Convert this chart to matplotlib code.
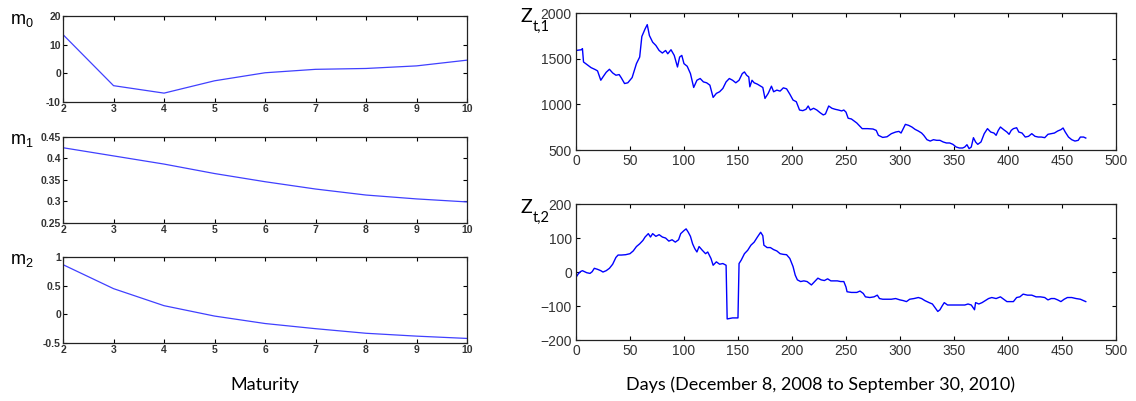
import matplotlib
matplotlib.use("Agg")
import matplotlib.pyplot as plt

# loadings against maturity
maturity = [2, 3, 4, 5, 6, 7, 8, 9, 10]
m0 = [13.5, -4.3, -6.9, -2.6, 0.2, 1.4, 1.7, 2.6, 4.6]
m1 = [0.425, 0.406, 0.387, 0.365, 0.346, 0.329, 0.315, 0.306, 0.299]
m2 = [0.866, 0.448, 0.151, -0.03, -0.16, -0.25, -0.33, -0.38, -0.42]

# factor Z_t,1
days1 = [0, 5, 6, 7, 10, 14, 18, 20, 23, 25, 28, 31, 34, 37, 40, 42, 45, 48, 52,
         56, 59, 61, 64, 66, 68, 71, 74, 77, 80, 83, 85, 88, 91, 94, 96, 98, 100,
         103, 106, 109, 112, 115, 118, 121, 124, 127, 130, 133, 136, 139, 142,
         145, 148, 151, 154, 156, 158, 160, 161, 163, 165, 168, 171, 173, 175,
         178, 181, 183, 186, 189, 192, 195, 198, 201, 204, 207, 210, 213, 215,
         217, 220, 223, 226, 229, 231, 234, 237, 240, 243, 246, 248, 250, 252,
         255, 260, 265, 270, 275, 278, 280, 284, 288, 292, 296, 299, 301, 303,
         305, 308, 311, 314, 317, 320, 322, 325, 328, 331, 334, 337, 340, 343,
         346, 349, 352, 355, 358, 360, 362, 364, 366, 368, 370, 372, 375, 378,
         381, 384, 387, 389, 391, 393, 396, 399, 401, 403, 405, 408, 410, 413,
         416, 419, 422, 425, 428, 431, 434, 437, 440, 443, 446, 449, 451, 453,
         456, 459, 462, 465, 467, 470, 472]
z1 = [1590, 1598, 1610, 1464, 1438, 1402, 1380, 1366, 1264, 1300, 1351, 1384,
      1344, 1319, 1326, 1290, 1228, 1236, 1293, 1446, 1518, 1743, 1826, 1873,
      1754, 1681, 1645, 1590, 1562, 1590, 1554, 1598, 1536, 1409, 1518, 1536,
      1446, 1417, 1337, 1185, 1264, 1283, 1246, 1236, 1210, 1076, 1120, 1138,
      1174, 1246, 1283, 1264, 1236, 1264, 1337, 1355, 1319, 1300, 1192, 1264,
      1236, 1221, 1199, 1185, 1065, 1120, 1199, 1138, 1156, 1145, 1181, 1170,
      1112, 1047, 1029, 938, 931, 946, 982, 938, 957, 938, 909, 884, 895, 982,
      957, 946, 938, 928, 938, 915, 848, 840, 796, 734, 734, 730, 715, 661,
      638, 645, 679, 697, 704, 686, 734, 781, 770, 752, 726, 708, 686, 661,
      613, 598, 613, 606, 606, 588, 577, 577, 562, 533, 522, 522, 533, 558,
      515, 533, 635, 588, 562, 588, 679, 734, 697, 686, 661, 715, 752, 723,
      697, 672, 715, 734, 744, 697, 686, 642, 650, 679, 650, 642, 642, 635,
      672, 679, 686, 708, 723, 741, 697, 642, 613, 598, 606, 642, 642, 631]

# factor Z_t,2
days2 = [0, 2, 4, 6, 8, 10, 13, 15, 17, 20, 23, 25, 28, 31, 34, 37, 39, 42, 46,
         50, 53, 56, 59, 62, 64, 67, 69, 71, 74, 77, 80, 83, 86, 89, 92, 95, 97,
         100, 102, 104, 106, 108, 110, 112, 114, 117, 120, 122, 125, 127, 130,
         133, 136, 139, 140, 145, 150, 151, 153, 156, 159, 162, 165, 168, 171,
         173, 174, 177, 180, 183, 186, 189, 192, 195, 198, 201, 203, 205, 208,
         211, 214, 216, 218, 221, 224, 227, 230, 233, 236, 239, 242, 245, 248,
         250, 251, 255, 260, 263, 266, 268, 272, 276, 279, 281, 284, 288, 292,
         296, 300, 303, 306, 309, 313, 317, 320, 323, 327, 330, 333, 335, 337,
         339, 341, 344, 348, 352, 356, 360, 363, 366, 369, 370, 373, 376, 379,
         382, 385, 389, 393, 396, 399, 402, 405, 408, 411, 414, 418, 422, 426,
         430, 434, 437, 440, 443, 446, 449, 452, 455, 459, 463, 467, 472]
z2 = [-16, -6, 1, 4, 1, -2, -4, 1, 11, 8, 4, 0, 4, 11, 23, 43, 50, 50, 51, 54,
      62, 75, 83, 93, 103, 113, 103, 113, 105, 110, 103, 100, 91, 95, 88, 95,
      113, 122, 127, 117, 105, 83, 69, 59, 75, 64, 54, 59, 40, 20, 30, 23, 25,
      20, -138, -135, -135, 25, 35, 54, 64, 79, 88, 103, 117, 107, 79, 72, 72,
      66, 62, 54, 52, 51, 40, 16, -9, -23, -28, -26, -28, -33, -38, -28, -18,
      -23, -25, -20, -26, -26, -26, -28, -28, -44, -58, -60, -60, -56, -63,
      -73, -75, -73, -68, -78, -80, -80, -80, -78, -82, -84, -87, -80, -78,
      -75, -78, -84, -90, -94, -107, -116, -111, -100, -90, -97, -97, -97,
      -97, -97, -94, -97, -111, -90, -94, -90, -84, -78, -75, -78, -73, -80,
      -87, -87, -87, -75, -73, -65, -68, -68, -73, -73, -75, -82, -78, -78,
      -82, -87, -80, -75, -75, -78, -80, -87]

plt.rcParams["font.family"] = ["Liberation Sans", "DejaVu Sans"]
plt.rcParams["mathtext.default"] = "regular"

fig = plt.figure(figsize=(11.36, 4.01), dpi=100)
tick_col = "#333333"
label_font = ["Lato", "DejaVu Sans"]


def style(ax, size, pad):
    ax.tick_params(direction="in", top=True, right=True, labelsize=size,
                   labelcolor=tick_col, length=3, pad=pad, width=0.8)
    for s in ax.spines.values():
        s.set_color("#222222")
        s.set_linewidth(0.9)


# left column
left_axes = []
bottoms = [0.7456, 0.4439, 0.1446]
for b in bottoms:
    left_axes.append(fig.add_axes([0.0555, b, 0.3556, 0.2145]))

series = [m0, m1, m2]
ylims = [(-10, 20), (0.25, 0.45), (-0.5, 1)]
yticks = [[-10, 0, 10, 20], [0.25, 0.3, 0.35, 0.4, 0.45], [-0.5, 0, 0.5, 1]]
ylabels = [["-10", "0", "10", "20"], ["0.25", "0.3", "0.35", "0.4", "0.45"],
           ["-0.5", "0", "0.5", "1"]]
for ax, y, lim, tk, tl in zip(left_axes, series, ylims, yticks, ylabels):
    ax.plot(maturity, y, color="#4040ff", lw=0.9)
    ax.set_xlim(2, 10)
    ax.set_ylim(*lim)
    ax.set_xticks(maturity)
    ax.set_yticks(tk)
    ax.set_yticklabels(tl)
    style(ax, 7.5, 1.5)
    for t in ax.get_xticklabels() + ax.get_yticklabels():
        t.set_fontweight("bold")

fig.text(0.009, 0.95, "m$_0$", fontsize=13, ha="left", va="center")
fig.text(0.009, 0.65, "m$_1$", fontsize=13, ha="left", va="center")
fig.text(0.009, 0.35, "m$_2$", fontsize=13, ha="left", va="center")

# right column
axz1 = fig.add_axes([0.507, 0.6259, 0.4754, 0.3416])
axz2 = fig.add_axes([0.507, 0.1521, 0.4754, 0.339])

axz1.plot(days1, z1, color="#0000ff", lw=1)
axz1.set_ylim(500, 2000)
axz1.set_yticks([500, 1000, 1500, 2000])

axz2.plot(days2, z2, color="#0000ff", lw=1)
axz2.set_ylim(-200, 200)
axz2.set_yticks([-200, -100, 0, 100, 200])

for ax in [axz1, axz2]:
    ax.set_xlim(0, 500)
    ax.set_xticks(range(0, 501, 50))
    style(ax, 10, 3)

# Z labels: letter and subscript as separate texts so they sit beside the top tick
for yz, sub in [(0.958, "t,1"), (0.483, "t,2")]:
    fig.text(0.4585, yz, "Z", fontsize=14, family=label_font, ha="left", va="center")
    fig.text(0.4685, yz - 0.026, sub, fontsize=10.5, family=label_font,
             ha="left", va="center")

fig.text(0.233, 0.04, "Maturity", fontsize=13, family=label_font,
         ha="center", va="center")
fig.text(0.722, 0.04, "Days (December 8, 2008 to September 30, 2010)", fontsize=13,
         family=label_font, ha="center", va="center")

fig.savefig("out.png", dpi=100)
